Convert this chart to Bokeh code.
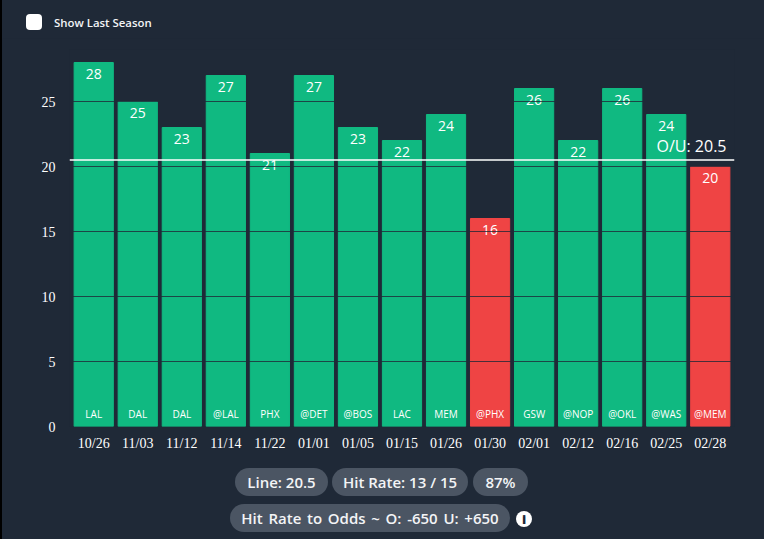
from bokeh.plotting import figure
from bokeh.layouts import column
from bokeh.models import ColumnDataSource, FactorRange, Range1d, Span, Label, FixedTicker, Div
from bokeh.core.properties import value
from bokeh.embed import file_html
from bokeh.resources import INLINE

dates = ["10/26","11/03","11/12","11/14","11/22","01/01","01/05","01/15","01/26","01/30","02/01","02/12","02/16","02/25","02/28"]
opponents = ["LAL","DAL","DAL","@LAL","PHX","@DET","@BOS","LAC","MEM","@PHX","GSW","@NOP","@OKL","@WAS","@MEM"]
points = [28,25,23,27,21,27,23,22,24,16,26,22,26,24,20]
line_value = 20.5
y_ticks = [0,5,10,15,20,25]

GREEN = "#10b981"
RED = "#ef4444"
BG = "#1f2937"
PILL = "#4b5563"
colors = [GREEN if v > line_value else RED for v in points]
source = ColumnDataSource(dict(d=dates, o=opponents, v=points, c=colors, base=[0]*15, lab=[str(v) for v in points]))

p = figure(width=762, height=422, output_backend="svg", toolbar_location=None,
           x_range=FactorRange(factors=dates, range_padding=0.05, range_padding_units="absolute"),
           y_range=Range1d(0, 29),
           background_fill_color=BG, border_fill_color=BG,
           min_border_left=67, min_border_right=30, min_border_top=11, min_border_bottom=34,
           margin=(0, 0, 0, 2))
p.outline_line_color = None
p.vbar(x="d", top="v", width=0.89, color="c", source=source, line_color="c")

p.text(x="d", y="v", text="lab", source=source, text_color="white", text_align="center", text_baseline="middle",
       text_font=value("Open Sans"), text_font_size="14px", y_offset=11)
p.text(x="d", y="base", text="o", source=source, text_color="white", text_align="center", text_baseline="middle",
       text_font=value("Open Sans"), text_font_size="10px", y_offset=-13)

p.xaxis.axis_line_color = None
p.yaxis.axis_line_color = None
p.xaxis.major_tick_line_color = None
p.yaxis.major_tick_line_color = None
p.xaxis.minor_tick_line_color = None
p.yaxis.minor_tick_line_color = None
p.yaxis.ticker = FixedTicker(ticks=y_ticks)
for ax in (p.xaxis[0], p.yaxis[0]):
    ax.major_label_text_color = "white"
    ax.major_label_text_font = "Liberation Serif"
    ax.major_label_text_font_size = "14px"
p.xaxis.major_label_standoff = 3
p.yaxis.major_label_standoff = 8
p.xgrid.grid_line_color = None
p.ygrid.ticker = FixedTicker(ticks=y_ticks)
p.ygrid.grid_line_color = "#1f2937"
p.ygrid.grid_line_alpha = 0.8
p.ygrid.grid_line_width = 1
p.ygrid.level = "overlay"

p.add_layout(Span(location=line_value, dimension="width", line_color="white", line_width=1.6, level="overlay"))
p.add_layout(Label(x=654, y=107, x_units="canvas", y_units="canvas", text="O/U: 20.5",
                   text_color="white", text_font="Open Sans", text_font_size="16px", text_baseline="alphabetic"))

FONT = "font-family:'Open Sans';color:#f3f4f6;"


def pill(left, top, width, text, extra=""):
    return (f'<div style="position:absolute;left:{left}px;top:{top}px;width:{width}px;height:28px;line-height:28px;'
            f'border-radius:14px;background:{PILL};text-align:center;white-space:nowrap;font-size:15px;font-weight:600;'
            f'{FONT}{extra}">{text}</div>')


top_html = (
    '<div style="position:relative;width:762px;height:38px">'
    '<div style="position:absolute;left:24px;top:14px;width:16px;height:16px;border-radius:4px;background:white"></div>'
    f'<div style="position:absolute;left:52px;top:14px;line-height:17px;white-space:nowrap;font-size:11.4px;font-weight:600;{FONT}">Show Last Season</div>'
    '</div>'
)
bottom_html = (
    '<div style="position:relative;width:762px;height:79px">'
    + pill(233, 8, 93, "Line: 20.5")
    + pill(330, 8, 136, "Hit Rate: 13 / 15")
    + pill(471, 8, 55, "87%")
    + pill(228, 44, 280, "Hit Rate to Odds ~ O: -650 U: +650", "word-spacing:1.8px;")
    + f'<div style="position:absolute;left:514px;top:51px;width:16px;height:16px;border-radius:8px;background:white;'
      f'text-align:center;line-height:16px;font-family:\'Open Sans\';font-size:13px;font-weight:800;color:{BG}">i</div>'
    + '</div>'
)
top_div = Div(text=top_html, width=762, height=38, margin=(0, 0, 0, 2), styles={"background-color": BG})
bottom_div = Div(text=bottom_html, width=762, height=79, margin=(0, 0, 0, 2), styles={"background-color": BG})

page = column(top_div, p, bottom_div, spacing=0, margin=0,
              styles={"background": "linear-gradient(to right,#000 2px,#1f2937 2px)"})

open("out.html", "w").write(file_html(page, INLINE))
